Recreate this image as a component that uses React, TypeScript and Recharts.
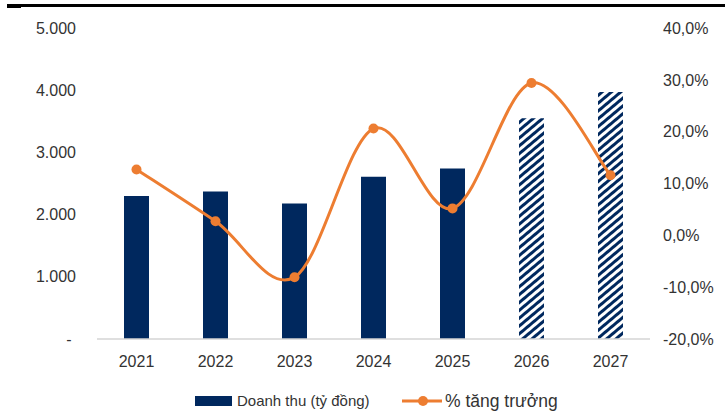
import { ComposedChart, Bar, Line, XAxis, YAxis, Cell } from "recharts";

const years = ["2021", "2022", "2023", "2024", "2025", "2026", "2027"];
// Doanh thu (tỷ đồng)
const revenue = [2300, 2370, 2180, 2610, 2740, 3550, 3970];
// % tăng trưởng
const growth = [12.7, 2.7, -8.1, 20.6, 5.2, 29.4, 11.6];
// 2026-2027 are forecast years, drawn hatched
const forecastYears = ["2026", "2027"];

const revenueTicks = [0, 1000, 2000, 3000, 4000, 5000];
const growthTicks = [-20, -10, 0, 10, 20, 30, 40];

const NAVY = "#00285E";
const ORANGE = "#ED7D31";
const TEXT = "#333333";
const FONT = "'Liberation Sans', Arial, sans-serif";

const data = years.map((year, i) => ({
  year,
  revenue: revenue[i],
  growth: growth[i],
}));

const fmtRevenue = (v: number) =>
  v === 0 ? "-\u00a0" : v.toLocaleString("de-DE");
const fmtGrowth = (v: number) => v.toFixed(1).replace(".", ",") + "%";

// Excel-style smoothed line: cubic Bezier segments with Catmull-Rom tangents
// eslint-disable-next-line @typescript-eslint/no-explicit-any
const smoothCurve = (context: any) => {
  let pts: [number, number][] = [];
  return {
    areaStart() {},
    areaEnd() {},
    lineStart() {
      pts = [];
    },
    point(x: number, y: number) {
      pts.push([+x, +y]);
    },
    lineEnd() {
      if (!pts.length) return;
      context.moveTo(pts[0][0], pts[0][1]);
      for (let i = 0; i < pts.length - 1; i++) {
        const p0 = pts[i - 1] ?? pts[i];
        const p1 = pts[i];
        const p2 = pts[i + 1];
        const p3 = pts[i + 2] ?? pts[i + 1];
        context.bezierCurveTo(
          p1[0] + (p2[0] - p0[0]) / 6,
          p1[1] + (p2[1] - p0[1]) / 6,
          p2[0] - (p3[0] - p1[0]) / 6,
          p2[1] - (p3[1] - p1[1]) / 6,
          p2[0],
          p2[1]
        );
      }
    },
  };
};

const tickStyle = { fontSize: 16, fill: TEXT, fontFamily: FONT };

export default function App() {
  return (
    <div
      style={{
        position: "absolute",
        left: 0,
        top: 0,
        width: 725,
        height: 415,
        background: "#fff",
        fontFamily: FONT,
      }}
    >
      {/* top rule */}
      <div style={{ position: "absolute", left: 7, top: 4, width: 718, height: 3, background: "#000" }} />
      <div style={{ position: "absolute", left: 7, top: 4, width: 14, height: 4, background: "#000" }} />

      <ComposedChart
        width={725}
        height={415}
        data={data}
        margin={{ top: 28, right: 0, bottom: 46, left: 0 }}
      >
        <defs>
          <pattern
            id="hatch"
            patternUnits="userSpaceOnUse"
            width={6}
            height={6}
            patternTransform="rotate(50)"
          >
            <rect width={6} height={6} fill="#fff" />
            <rect width={3} height={6} fill={NAVY} />
          </pattern>
        </defs>
        <XAxis
          dataKey="year"
          height={30}
          tick={tickStyle}
          tickLine={false}
          tickSize={0}
          tickMargin={17}
          axisLine={{ stroke: "#D4D4D4", strokeWidth: 1.5 }}
        />
        <YAxis
          yAxisId="left"
          width={97}
          domain={[0, 5000]}
          ticks={revenueTicks}
          tickFormatter={fmtRevenue}
          tick={tickStyle}
          axisLine={false}
          tickLine={false}
          tickSize={0}
          tickMargin={21}
        />
        <YAxis
          yAxisId="right"
          orientation="right"
          width={75}
          domain={[-20, 40]}
          ticks={growthTicks}
          tickFormatter={fmtGrowth}
          tick={tickStyle}
          axisLine={false}
          tickLine={false}
          tickSize={0}
          tickMargin={13}
        />
        <Bar
          yAxisId="left"
          dataKey="revenue"
          name="Doanh thu (tỷ đồng)"
          barSize={25}
          fill={NAVY}
          isAnimationActive={false}
        >
          {data.map((d) => (
            <Cell
              key={d.year}
              fill={forecastYears.includes(d.year) ? "url(#hatch)" : NAVY}
            />
          ))}
        </Bar>
        <Line
          yAxisId="right"
          dataKey="growth"
          name="% tăng trưởng"
          type={smoothCurve}
          stroke={ORANGE}
          strokeWidth={3}
          dot={{ r: 5, fill: ORANGE, stroke: "none" }}
          activeDot={false}
          isAnimationActive={false}
        />
      </ComposedChart>

      {/* legend */}
      <div style={{ position: "absolute", left: 195, top: 396, width: 37, height: 10, background: NAVY }} />
      <div
        style={{
          position: "absolute",
          left: 237,
          top: 391,
          fontSize: 15,
          lineHeight: "20px",
          color: TEXT,
          whiteSpace: "nowrap",
        }}
      >
        Doanh thu (tỷ đồng)
      </div>
      <svg style={{ position: "absolute", left: 402, top: 394 }} width={40} height={14}>
        <line x1={0} y1={7} x2={40} y2={7} stroke={ORANGE} strokeWidth={3} />
        <circle cx={21} cy={7} r={5} fill={ORANGE} />
      </svg>
      <div
        style={{
          position: "absolute",
          left: 445,
          top: 390,
          fontSize: 17.5,
          lineHeight: "22px",
          color: TEXT,
          whiteSpace: "nowrap",
        }}
      >
        % tăng trưởng
      </div>
    </div>
  );
}
